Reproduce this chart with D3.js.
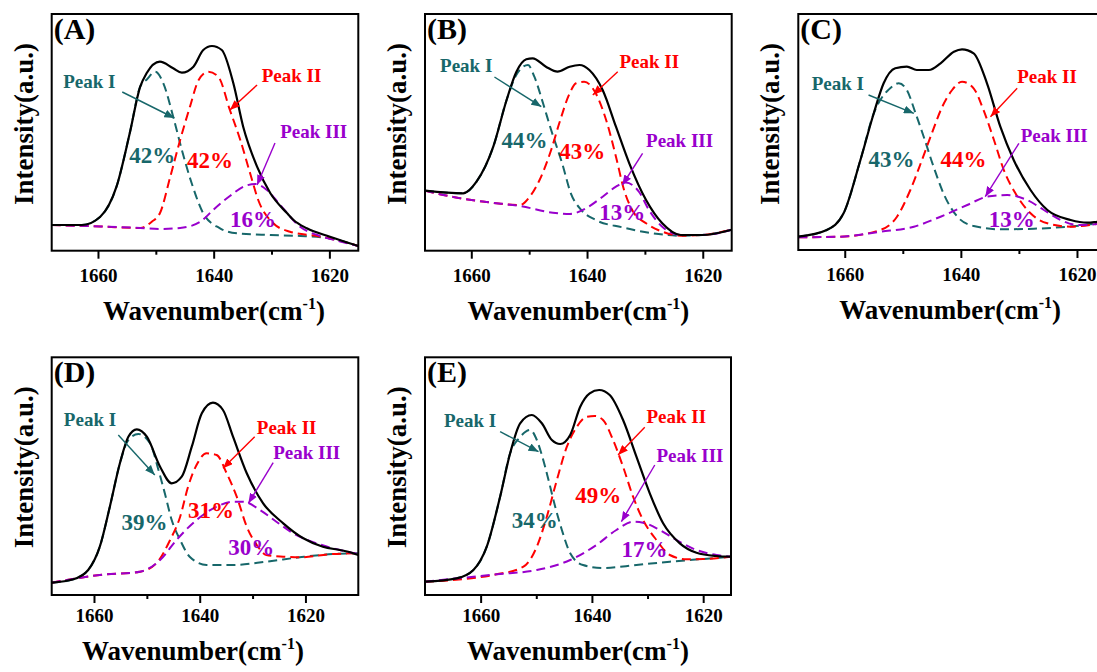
<!DOCTYPE html>
<html><head><meta charset="utf-8">
<script src="https://cdn.jsdelivr.net/npm/d3@7"></script>
<style>
body{margin:0;background:#fff;}
svg{display:block;}
text{font-family:"Liberation Serif","Times New Roman",serif;font-weight:bold;}
</style>
</head><body>
<svg id="chart" width="1097" height="672"></svg>
<script>
// ---------------- data ----------------
const peakNames = ["Peak I", "Peak II", "Peak III"];
const panelLetters = ["(A)", "(B)", "(C)", "(D)", "(E)"];
const majorTicks = [1660, 1640, 1620];
const minorTicks = [1650, 1630];
const xTitleMain = "Wavenumber(cm";
const xTitleSup = "-1";
const yTitle = "Intensity(a.u.)";

const pctA = [42, 42, 16];
const pctB = [44, 43, 13];
const pctC = [43, 44, 13];
const pctD = [39, 31, 30];
const pctE = [34, 49, 17];

// [wavenumber, intensity (a.u.)]
const totalA = [[1668,25.7],[1662.8,25.7],[1659.6,34],[1656.8,64],[1654.5,117.7],[1652.7,164],[1651.6,177.4],[1649.3,189],[1647.0,182.4],[1645.5,178],[1643.5,184],[1641.8,200.7],[1640.3,204.7],[1638.6,200.7],[1636.6,167.4],[1634.9,124],[1632.5,84],[1630.2,57.4],[1627.3,37.4],[1626.2,30.7],[1623.9,22.4],[1619.9,14],[1615,4.7]];
const peak1A = [[1668,25.7],[1662.8,25.7],[1659.6,34],[1656.8,64],[1654.5,117.7],[1652.7,164],[1651.6,171],[1650.1,179],[1648.7,167.4],[1647.0,134],[1645.5,100.7],[1643.8,67.4],[1641.8,37.4],[1638.9,22.4],[1636.0,17.4],[1630.2,15.7],[1625.0,14.7],[1619.9,12.2],[1615,4.7]];
const peak2A = [[1668,25.7],[1659.6,24.2],[1652.7,22.7],[1650.7,29],[1649.3,37.4],[1647.5,74],[1645.8,110.7],[1644.1,144],[1642.6,170.7],[1640.9,179],[1639.2,174],[1637.2,140.7],[1635.4,110.7],[1633.7,77.4],[1632.3,50.7],[1629.7,27.4],[1626.8,19],[1622.2,14.7],[1619.9,12.2],[1615,4.7]];
const peak3A = [[1668,25.7],[1659.6,24.2],[1652.7,22.7],[1649.3,21.7],[1645.8,22.7],[1642.3,29],[1640.1,40.7],[1637.2,54.7],[1634.6,64.7],[1632.8,66.7],[1630.8,60.7],[1628.5,45.7],[1625.0,23.7],[1621.6,14.7],[1618.1,9.2],[1615,4.7]];

const totalB = [[1668,60],[1661.4,57.4],[1659.1,69],[1656.2,104],[1653.9,150.7],[1652.2,179],[1650.5,191.4],[1649.4,192.4],[1647.1,184],[1645.1,179],[1643.0,184],[1641.3,185.7],[1639.6,180.7],[1637.3,160.7],[1635.0,124],[1632.7,87.4],[1629.8,50.7],[1627.0,27.4],[1623.8,15.7],[1620.1,15.7],[1615,21]];
const peak1B = [[1668,60],[1661.4,57.4],[1659.1,69],[1656.2,104],[1653.9,150.7],[1652.2,176],[1650.2,185.7],[1649.1,174],[1647.6,147.4],[1646.2,120.7],[1644.3,87.4],[1642.8,57.4],[1641.0,40.7],[1638.5,30.7],[1633.9,23.4],[1628.7,17.4],[1623.8,15],[1620.1,15.7],[1615,21]];
const peak2B = [[1668,60],[1663.1,53.7],[1657.4,48.7],[1651.6,45.7],[1649.9,54],[1648.2,70.7],[1646.2,100.7],[1644.8,127.4],[1643.0,157.4],[1641.9,167.4],[1640.5,169],[1638.5,157.4],[1636.7,130.7],[1635.0,94],[1633.6,60.7],[1632.2,40.7],[1629.8,27.4],[1627.0,19],[1623.8,15],[1620.1,15.7],[1615,21]];
const peak3B = [[1668,60],[1663.1,53.7],[1657.4,48.7],[1651.6,44.7],[1645.9,38],[1643.0,36.7],[1640.2,42.4],[1637.3,54],[1635.0,64],[1633.3,68.2],[1631.0,58.7],[1629.3,40.7],[1627.0,24],[1623.8,15.7],[1620.1,15.7],[1615,21]];

const totalC = [[1668,13.3],[1663.1,20],[1660.2,36.7],[1657.3,90],[1655.0,136.7],[1653.3,166.7],[1651.3,181.7],[1649.3,183.3],[1647.6,180],[1645.5,180],[1643.5,186.7],[1641.2,198.3],[1639.8,200.7],[1637.8,196.7],[1635.5,166.7],[1633.2,123.3],[1630.9,90],[1628.0,60],[1625.1,40],[1621.1,30],[1618.2,27.3],[1616.4,28.3],[1615,29]];
const peak1C = [[1668,13.3],[1663.1,20],[1660.2,36.7],[1657.3,90],[1655.0,136.7],[1653.3,155],[1652.5,160],[1650.7,166.7],[1649.3,160],[1647.8,136.7],[1646.4,113.3],[1644.7,83.3],[1643.0,56.7],[1640.6,33.3],[1637.8,24],[1633.2,20.7],[1627.4,21.3],[1621.6,23.3],[1616.4,26.7],[1615,28]];
const peak2C = [[1668,12.7],[1660.8,13.3],[1653.9,20],[1651.0,33.3],[1648.7,60],[1646.7,90],[1645.0,116.7],[1643.2,143.3],[1641.5,160],[1639.8,168.3],[1637.8,161.7],[1636.1,140],[1634.3,110],[1632.6,80],[1630.6,56.7],[1628.0,36.7],[1625.1,26.7],[1621.1,23.3],[1616.4,26],[1615,27]];
const peak3C = [[1668,12.7],[1660.8,13.3],[1653.9,18.3],[1648.1,23.3],[1643.5,33.3],[1638.9,45],[1635.5,53.3],[1632.0,55],[1628.6,50],[1625.7,40],[1622.8,30],[1619.9,25],[1616.4,26],[1615,27]];

const totalD = [[1668,12.3],[1663.9,15.7],[1661.1,25],[1658.9,48.3],[1657.0,88.3],[1655.1,131.7],[1653.5,158.3],[1651.9,165.7],[1650.0,158.3],[1647.5,128.3],[1645.3,111.7],[1643.4,118.3],[1641.5,148.3],[1639.6,181.7],[1637.5,192.3],[1635.6,185],[1633.7,158.3],[1631.1,121.7],[1628.0,91.7],[1624.2,71.7],[1620.4,56.7],[1616.7,48.3],[1613.5,45],[1611.9,43.3],[1610,40]];
const peak1D = [[1668,12.3],[1663.9,15.7],[1661.1,25],[1658.9,48.3],[1657.0,88.3],[1655.1,131.7],[1653.5,155],[1651.6,161],[1649.4,151.7],[1647.8,125],[1646.6,101.7],[1645.3,75],[1643.7,55],[1641.9,38.3],[1638.7,30],[1633.7,30],[1627.4,33.3],[1621.1,37.7],[1614.8,41],[1610,41.7]];
const peak2D = [[1668,12.3],[1658.9,20],[1651.3,23.3],[1648.2,31.7],[1645.6,55],[1643.7,78.3],[1642.2,108.3],[1640.6,130],[1638.7,141.7],[1636.8,140],[1634.9,121.7],[1633.0,98.3],[1631.1,68.3],[1629.2,50],[1627.4,40],[1624.2,38.3],[1621.1,37.7],[1614.8,41],[1610,41.7]];
const peak3D = [[1668,12.3],[1658.9,20],[1651.3,23.3],[1647.5,35],[1644.4,55],[1640.6,75],[1636.8,88.3],[1633.7,93.3],[1631.8,93.3],[1628.6,85],[1625.5,73.3],[1622.3,61.7],[1617.9,51.7],[1613.5,45],[1610,41]];

const totalE = [[1670,13.3],[1664.3,16.7],[1661.3,25],[1658.9,48.3],[1656.5,98.3],[1654.7,141.7],[1652.9,171.7],[1650.8,180],[1649.0,171.7],[1647.2,155],[1645.7,151],[1643.9,160],[1642.1,188.3],[1640.4,201.7],[1638.7,205],[1636.8,200],[1634.4,175],[1632.0,138.3],[1629.6,101.7],[1627.2,71.7],[1624.2,51.7],[1621.2,42.3],[1617.6,39],[1615,38.3]];
const peak1E = [[1670,13.3],[1664.3,16.7],[1661.3,25],[1658.9,48.3],[1656.5,98.3],[1654.7,141.7],[1652.9,158],[1651.1,165],[1649.9,155],[1649.0,140],[1647.8,115],[1646.6,88.3],[1645.4,65],[1643.9,41.7],[1641.6,30],[1638.0,27],[1632.0,30],[1626.0,33.3],[1620.0,36],[1615,38.3]];
const peak2E = [[1670,13.3],[1657.1,20.7],[1652.3,28.3],[1649.9,48.3],[1648.1,78.3],[1646.3,115],[1644.5,148.3],[1642.7,168.3],[1640.9,178.3],[1639.5,179],[1638.0,175],[1636.2,155],[1634.4,128.3],[1632.6,98.3],[1630.8,75],[1628.4,55],[1626.0,40],[1623.0,35.7],[1620.0,36],[1615,38.3]];
const peak3E = [[1670,13.3],[1657.1,20.7],[1649.9,25],[1643.9,35],[1639.2,50],[1635.6,65],[1632.6,73.3],[1630.8,72.3],[1627.8,65],[1624.8,55],[1621.2,45],[1617.6,40],[1615,38.3]];

// ---------------- layout (annotation anchors in data units) ----------------
const annA = {labels:[[1666.0,162.7],[1631.7,169],[1628.5,112.7]], arrows:[[[1655.8,158.7],[1646.8,132.7]],[[1632.5,165.7],[1637.2,140.7]],[[1629.4,107.7],[1632.5,65.7]]], pct:[[1654.6,87.4],[1644.6,82.4],[1637.2,24]]};
const annB = {labels:[[1665.4,178.7],[1634.4,182.7],[1629.8,104]], arrows:[[[1656.0,173.7],[1647.9,144]],[[1634.7,179],[1639.0,155.7]],[[1630.4,97.4],[1633.9,65.7]]], pct:[[1654.8,102.4],[1644.8,91.4],[1637.9,30.7]]};
const annC = {labels:[[1665.7,160],[1630.3,166.7],[1629.7,108.3]], arrows:[[[1655.9,155],[1648.1,136.7]],[[1630.3,161.7],[1634.9,133.3]],[[1630.0,106.7],[1635.8,53.3]]], pct:[[1655.9,83.3],[1643.5,83.3],[1635.2,23.3]]};
const annD = {labels:[[1665.7,169],[1629.2,161],[1626.1,135.7]], arrows:[[[1655.4,160],[1648.5,120]],[[1629.6,158.3],[1635.6,126.7]],[[1626.1,132.3],[1630.8,91.7]]], pct:[[1654.8,65],[1642.2,77.3],[1634.6,40]]};
const annE = {labels:[[1666.6,167.7],[1630.2,171.7],[1628.4,133.3]], arrows:[[[1656.5,163.3],[1649.6,143.3]],[[1630.5,167.7],[1635.3,140]],[[1628.7,130],[1634.7,73.3]]], pct:[[1654.4,66.7],[1643.0,91.7],[1634.7,38.3]]};

const colors = ["#17676a", "#ff0000", "#9900cc"];
const FONT = '"Liberation Serif","Times New Roman",serif';

const panels = [
  {total:totalA, comps:[peak1A,peak2A,peak3A], pct:pctA, ann:annA, left:51.7, right:358.3, top:14, bottom:250.7, dom:[1668,1615], titleDx:9, tickLab:31, titleDy:69},
  {total:totalB, comps:[peak1B,peak2B,peak3B], pct:pctB, ann:annB, left:425, right:731.7, top:14, bottom:250.7, dom:[1668,1615], titleDx:0, tickLab:31, titleDy:69},
  {total:totalC, comps:[peak1C,peak2C,peak3C], pct:pctC, ann:annC, left:798.3, right:1106, top:14, bottom:250, dom:[1668,1615], titleDx:-2, tickLab:31, titleDy:69},
  {total:totalD, comps:[peak1D,peak2D,peak3D], pct:pctD, ann:annD, left:51.7, right:358.3, top:357.3, bottom:595, dom:[1668,1610], titleDx:-12, tickLab:27, titleDy:65},
  {total:totalE, comps:[peak1E,peak2E,peak3E], pct:pctE, ann:annE, left:425, right:731, top:357.3, bottom:595, dom:[1670,1615], titleDx:0, tickLab:27, titleDy:65}
];

const svg = d3.select("#chart");
const defs = svg.append("defs");
colors.forEach((c, k) => {
  defs.append("marker").attr("id", "arr" + k)
    .attr("viewBox", "0 0 10 8").attr("refX", 10).attr("refY", 4)
    .attr("markerWidth", 10).attr("markerHeight", 8)
    .attr("markerUnits", "userSpaceOnUse").attr("orient", "auto")
    .append("path").attr("d", "M0,0 L10,4 L0,8 Z").attr("fill", c);
});

panels.forEach((p, i) => {
  const x = d3.scaleLinear().domain(p.dom).range([p.left, p.right]);
  const y = d3.scaleLinear().domain([0, 237]).range([p.bottom, p.bottom - 237]);
  const g = svg.append("g");

  defs.append("clipPath").attr("id", "clip" + i)
    .append("rect").attr("x", p.left).attr("y", p.top)
    .attr("width", p.right - p.left).attr("height", p.bottom - p.top);

  const line = d3.line().x(d => x(d[0])).y(d => y(d[1])).curve(d3.curveMonotoneX);
  const plot = g.append("g").attr("clip-path", `url(#clip${i})`);

  p.comps.forEach((c, k) => {
    plot.append("path").datum(c).attr("d", line)
      .attr("fill", "none").attr("stroke", colors[k])
      .attr("stroke-width", 2).attr("stroke-dasharray", "9,5");
  });
  plot.append("path").datum(p.total).attr("d", line)
    .attr("fill", "none").attr("stroke", "#000").attr("stroke-width", 2.2);

  // frame
  g.append("rect").attr("x", p.left).attr("y", p.top)
    .attr("width", p.right - p.left).attr("height", p.bottom - p.top)
    .attr("fill", "none").attr("stroke", "#000").attr("stroke-width", 2);

  // axes
  const gx = g.append("g").attr("transform", `translate(0,${p.bottom})`);
  gx.call(d3.axisBottom(x).tickValues(majorTicks).tickSize(8).tickFormat(d3.format("d")));
  gx.select(".domain").remove();
  gx.selectAll(".tick line").attr("stroke", "#000").attr("stroke-width", 2);
  gx.selectAll(".tick text").attr("y", p.tickLab).attr("dy", null)
    .style("font-family", FONT).style("font-weight", "bold")
    .style("font-size", "19px").attr("fill", "#000");
  const gm = g.append("g").attr("transform", `translate(0,${p.bottom})`);
  gm.call(d3.axisBottom(x).tickValues(minorTicks).tickSize(4).tickFormat(""));
  gm.select(".domain").remove();
  gm.selectAll(".tick line").attr("stroke", "#000").attr("stroke-width", 2);

  // titles
  const xt = g.append("text").attr("x", (p.left + p.right) / 2 + p.titleDx)
    .attr("y", p.bottom + p.titleDy).attr("text-anchor", "middle")
    .style("font-family", FONT).style("font-size", "27px").attr("fill", "#000");
  xt.append("tspan").text(xTitleMain);
  xt.append("tspan").attr("dy", -11).style("font-size", "16px").text(xTitleSup);
  xt.append("tspan").attr("dy", 11).text(")");

  g.append("text").attr("transform", `translate(${p.left - 19},${p.top + 110}) rotate(-90)`)
    .attr("text-anchor", "middle").style("font-family", FONT)
    .style("font-size", "27px").attr("fill", "#000").text(yTitle);

  g.append("text").attr("x", p.left + 2).attr("y", p.top + 25)
    .style("font-family", FONT).style("font-size", "30px").attr("fill", "#000").text(panelLetters[i]);

  // annotations
  peakNames.forEach((name, k) => {
    const a = p.ann.arrows[k];
    g.append("line").attr("x1", x(a[0][0])).attr("y1", y(a[0][1]))
      .attr("x2", x(a[1][0])).attr("y2", y(a[1][1]))
      .attr("stroke", colors[k]).attr("stroke-width", 1.4)
      .attr("marker-end", `url(#arr${k})`);
    g.append("text").attr("x", x(p.ann.labels[k][0])).attr("y", y(p.ann.labels[k][1]))
      .style("font-family", FONT).style("font-size", "19px").attr("fill", colors[k]).text(name);
    g.append("text").attr("x", x(p.ann.pct[k][0])).attr("y", y(p.ann.pct[k][1]))
      .style("font-family", FONT).style("font-size", "23px").attr("fill", colors[k]).text(p.pct[k] + "%");
  });
});
</script>
</body></html>
